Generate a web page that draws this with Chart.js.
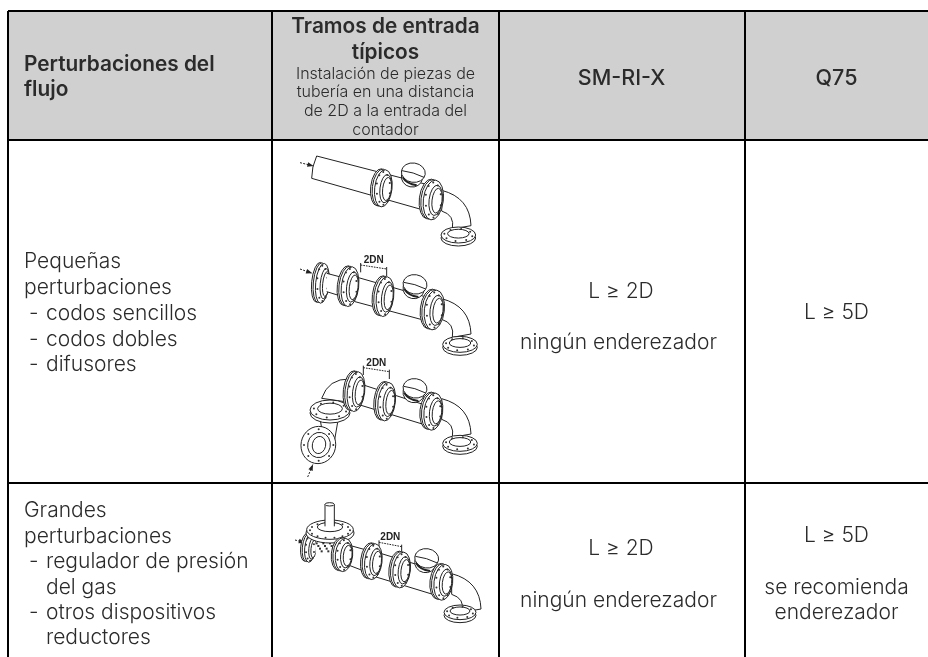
<!DOCTYPE html>
<html>
<head>
<meta charset="utf-8">
<style>
  html, body { margin: 0; padding: 0; background: #fff; }
  canvas { display: block; }
</style>
<script src="https://cdn.jsdelivr.net/npm/chart.js@4/dist/chart.umd.min.js"></script>
</head>
<body>
<canvas id="flowTable" width="928" height="657"></canvas>
<script>
// table contents
const HEAD_FLOW = ['Perturbaciones del', 'flujo'];
const HEAD_RUN = ['Tramos de entrada', 'típicos'];
const HEAD_RUN_NOTE = ['Instalación de piezas de', 'tubería en una distancia', 'de 2D a la entrada del', 'contador'];
const HEAD_SM = 'SM-RI-X';
const HEAD_Q = 'Q75';
const SMALL_TITLE = ['Pequeñas', 'perturbaciones'];
const SMALL_ITEMS = ['codos sencillos', 'codos dobles', 'difusores'];
const BIG_TITLE = ['Grandes', 'perturbaciones'];
const BIG_ITEMS = ['regulador de presión', 'del gas', 'otros dispositivos', 'reductores'];
const SMALL_SM = ['L ≥ 2D', 'ningún enderezador'];
const SMALL_Q = ['L ≥ 5D'];
const BIG_SM = ['L ≥ 2D', 'ningún enderezador'];
const BIG_Q = ['L ≥ 5D', 'se recomienda', 'enderezador'];

// table rules, in axis units
const COL_RULES = [8, 272, 499, 745];
const ROW_RULES = [11, 140, 483];
const HEADER_BAND = [{ x: 8, y: 140 }, { x: 928, y: 140 }];

const INK = '#2b2b2b';
const BODY_FONT = '300 21px Inter, sans-serif';
const HEAD_FONT = '600 20.8px Inter, sans-serif';
const CODE_FONT = '500 21.5px Inter, sans-serif';
const NOTE_FONT = '300 16px Inter, sans-serif';

function put(ctx, x, y, text, font, align) {
  ctx.font = font;
  ctx.textAlign = align || 'left';
  ctx.textBaseline = 'alphabetic';
  ctx.fillStyle = INK;
  ctx.fillText(text, x, y + 1);
}

const tableText = {
  id: 'tableText',
  afterDraw(chart) {
    const ctx = chart.ctx;
    ctx.save();
    put(ctx, 24, 70, HEAD_FLOW[0], HEAD_FONT);
    put(ctx, 24, 95, HEAD_FLOW[1], HEAD_FONT);
    put(ctx, 385.5, 32, HEAD_RUN[0], HEAD_FONT, 'center');
    put(ctx, 385.5, 58, HEAD_RUN[1], HEAD_FONT, 'center');
    [78, 96, 115, 134].forEach((y, i) => put(ctx, 385.5, y, HEAD_RUN_NOTE[i], NOTE_FONT, 'center'));
    put(ctx, 621.5, 84, HEAD_SM, CODE_FONT, 'center');
    put(ctx, 836.5, 84, HEAD_Q, CODE_FONT, 'center');

    put(ctx, 24, 267, SMALL_TITLE[0], BODY_FONT);
    put(ctx, 24, 293, SMALL_TITLE[1], BODY_FONT);
    [319, 345, 370].forEach((y, i) => {
      put(ctx, 29, y, '-', BODY_FONT);
      put(ctx, 46, y, SMALL_ITEMS[i], BODY_FONT);
    });
    put(ctx, 24, 516, BIG_TITLE[0], BODY_FONT);
    put(ctx, 24, 542, BIG_TITLE[1], BODY_FONT);
    put(ctx, 29, 567, '-', BODY_FONT);
    put(ctx, 46, 567, BIG_ITEMS[0], BODY_FONT);
    put(ctx, 46, 593, BIG_ITEMS[1], BODY_FONT);
    put(ctx, 29, 618, '-', BODY_FONT);
    put(ctx, 46, 618, BIG_ITEMS[2], BODY_FONT);
    put(ctx, 46, 643, BIG_ITEMS[3], BODY_FONT);

    put(ctx, 621, 297, SMALL_SM[0], BODY_FONT, 'center');
    put(ctx, 618.5, 348, SMALL_SM[1], BODY_FONT, 'center');
    put(ctx, 836.5, 318, SMALL_Q[0], BODY_FONT, 'center');
    put(ctx, 621, 554, BIG_SM[0], BODY_FONT, 'center');
    put(ctx, 618.5, 606, BIG_SM[1], BODY_FONT, 'center');
    put(ctx, 836.5, 541, BIG_Q[0], BODY_FONT, 'center');
    put(ctx, 836.5, 593, BIG_Q[1], BODY_FONT, 'center');
    put(ctx, 836.5, 618, BIG_Q[2], BODY_FONT, 'center');
    ctx.restore();
  }
};

// --- pipe sketches, coordinates are 3x zoomed crop units ---
function ell(ctx, cx, cy, rx, ry, rot) {
  ctx.beginPath();
  ctx.ellipse(cx, cy, rx, ry, rot, 0, Math.PI * 2);
  ctx.fill();
  ctx.stroke();
}

function flange(ctx, cx, cy, rx, ry, rot) {
  ctx.fillStyle = '#fff';
  ell(ctx, cx - 12, cy - 3, rx, ry, rot);
  ell(ctx, cx - 7, cy - 2, rx, ry, rot);
  ell(ctx, cx, cy, rx, ry, rot);
  ell(ctx, cx + 7, cy + 1, rx * 0.66, ry * 0.76, rot);
  ell(ctx, cx + 11, cy + 2, rx * 0.5, ry * 0.62, rot);
  ctx.fillStyle = '#333';
  for (let a = 0; a < 10; a++) {
    const t = a * Math.PI / 5 + 0.3;
    ctx.beginPath();
    ctx.arc(cx + Math.cos(t) * rx * 0.78, cy + Math.sin(t) * ry * 0.88, 3, 0, Math.PI * 2);
    ctx.fill();
  }
}

function baseFlange(ctx, cx, cy, rx, ry) {
  ctx.fillStyle = '#fff';
  ell(ctx, cx, cy + 9, rx, ry, 0);
  ell(ctx, cx, cy, rx, ry, 0);
  ell(ctx, cx, cy - 4, rx * 0.62, ry * 0.55, 0);
  ctx.fillStyle = '#333';
  for (let a = 0; a < 8; a++) {
    const t = a * Math.PI / 4 + 0.2;
    ctx.beginPath();
    ctx.arc(cx + Math.cos(t) * rx * 0.82, cy + Math.sin(t) * ry * 0.76, 3, 0, Math.PI * 2);
    ctx.fill();
  }
}

function tube(ctx, x1, y1, x2, y2, x3, y3, x4, y4) {
  ctx.fillStyle = '#fff';
  ctx.beginPath();
  ctx.moveTo(x1, y1);
  ctx.lineTo(x2, y2);
  ctx.lineTo(x4, y4);
  ctx.lineTo(x3, y3);
  ctx.closePath();
  ctx.fill();
  ctx.beginPath();
  ctx.moveTo(x1, y1);
  ctx.lineTo(x2, y2);
  ctx.moveTo(x3, y3);
  ctx.lineTo(x4, y4);
  ctx.stroke();
}

function meter(ctx, cx, cy) {
  ctx.fillStyle = '#fff';
  ctx.beginPath();
  ctx.ellipse(cx - 4, cy + 13, 32, 30, 0.2, 0, Math.PI * 2);
  ctx.fill();
  ctx.stroke();
  ell(ctx, cx, cy, 36, 29, 0.15);
  ctx.beginPath();
  ctx.moveTo(cx - 34, cy - 6);
  ctx.quadraticCurveTo(cx, cy - 2, cx + 32, cy + 14);
  ctx.stroke();
  ctx.lineWidth = 6;
  ctx.beginPath();
  ctx.moveTo(cx - 32, cy + 14);
  ctx.quadraticCurveTo(cx - 20, cy + 34, cx + 10, cy + 38);
  ctx.stroke();
  ctx.lineWidth = 3;
}

function elbow(ctx, x, y) {
  // runs from a flange face at (x, y) down to a base flange
  ctx.fillStyle = '#fff';
  ctx.beginPath();
  ctx.moveTo(x, y - 34);
  ctx.quadraticCurveTo(x + 85, y - 12, x + 88, y + 72);
  ctx.lineTo(x + 32, y + 82);
  ctx.quadraticCurveTo(x + 40, y + 40, x, y + 28);
  ctx.closePath();
  ctx.fill();
  ctx.stroke();
}

function arrow(ctx, x1, y1, x2, y2) {
  ctx.setLineDash([6, 4]);
  ctx.beginPath();
  ctx.moveTo(x1, y1);
  ctx.lineTo(x2, y2);
  ctx.stroke();
  ctx.setLineDash([]);
  const a = Math.atan2(y2 - y1, x2 - x1);
  ctx.fillStyle = '#222';
  ctx.beginPath();
  ctx.moveTo(x2, y2);
  ctx.lineTo(x2 - 20 * Math.cos(a - 0.35), y2 - 20 * Math.sin(a - 0.35));
  ctx.lineTo(x2 - 20 * Math.cos(a + 0.35), y2 - 20 * Math.sin(a + 0.35));
  ctx.closePath();
  ctx.fill();
}

function dimension(ctx, x1, y1, x2, y2) {
  ctx.setLineDash([5, 3]);
  ctx.beginPath();
  ctx.moveTo(x1, y1);
  ctx.lineTo(x2, y2);
  ctx.stroke();
  ctx.setLineDash([]);
  ctx.beginPath();
  ctx.moveTo(x1, y1 - 6);
  ctx.lineTo(x1, y1 + 22);
  ctx.moveTo(x2, y2 - 6);
  ctx.lineTo(x2, y2 + 22);
  ctx.stroke();
  ctx.fillStyle = '#222';
  ctx.font = 'bold 30px "Liberation Sans Narrow", "Liberation Sans", sans-serif';
  ctx.textAlign = 'center';
  ctx.fillText('2DN', (x1 + x2) / 2, Math.min(y1, y2) - 6);
}

function sketchOne(ctx) {
  arrow(ctx, 15, 38, 56, 48);
  tube(ctx, 65, 18, 390, 102, 50, 85, 385, 180);
  ctx.beginPath();
  ctx.moveTo(65, 18);
  ctx.quadraticCurveTo(50, 50, 50, 85);
  ctx.stroke();
  elbow(ctx, 440, 155);
  baseFlange(ctx, 490, 255, 52, 24);
  flange(ctx, 265, 115, 26, 56, 0.12);
  meter(ctx, 355, 68);
  flange(ctx, 415, 150, 30, 60, 0.12);
}

function sketchTwo(ctx) {
  arrow(ctx, 15, 42, 52, 55);
  dimension(ctx, 197, 30, 275, 42);
  flange(ctx, 82, 85, 20, 60, 0.1);
  tube(ctx, 95, 55, 160, 72, 95, 110, 160, 130);
  tube(ctx, 180, 65, 390, 125, 180, 140, 385, 195);
  flange(ctx, 165, 95, 26, 60, 0.12);
  elbow(ctx, 440, 165);
  baseFlange(ctx, 495, 268, 52, 24);
  flange(ctx, 270, 125, 26, 60, 0.12);
  meter(ctx, 360, 88);
  flange(ctx, 418, 165, 30, 60, 0.12);
}

function sketchThree(ctx) {
  dimension(ctx, 205, 38, 283, 50);
  // left elbow and round inlet flange
  ctx.fillStyle = '#fff';
  ctx.beginPath();
  ctx.moveTo(165, 72);
  ctx.quadraticCurveTo(100, 70, 80, 130);
  ctx.lineTo(150, 140);
  ctx.quadraticCurveTo(150, 130, 175, 125);
  ctx.closePath();
  ctx.fill();
  ctx.stroke();
  tube(ctx, 75, 190, 80, 220, 130, 190, 118, 260);
  ell(ctx, 70, 270, 52, 56, 0.2);
  ell(ctx, 72, 270, 34, 38, 0.2);
  ell(ctx, 72, 270, 20, 26, 0.2);
  ctx.fillStyle = '#333';
  for (let a = 0; a < 8; a++) {
    const t = a * Math.PI / 4;
    ctx.beginPath();
    ctx.arc(71 + Math.cos(t) * 44, 270 + Math.sin(t) * 47, 3, 0, Math.PI * 2);
    ctx.fill();
  }
  baseFlange(ctx, 105, 165, 60, 30);
  tube(ctx, 190, 85, 390, 150, 195, 150, 385, 208);
  flange(ctx, 183, 110, 26, 60, 0.12);
  elbow(ctx, 440, 165);
  baseFlange(ctx, 495, 265, 52, 24);
  flange(ctx, 275, 140, 26, 58, 0.12);
  meter(ctx, 360, 100);
  flange(ctx, 415, 170, 28, 56, 0.12);
  arrow(ctx, 38, 366, 54, 328);
}

function sketchFour(ctx) {
  arrow(ctx, 0, 135, 30, 143);
  dimension(ctx, 252, 142, 320, 155);
  tube(ctx, 160, 150, 225, 168, 160, 210, 225, 235);
  flange(ctx, 45, 160, 16, 42, 0.1);
  // regulator body with its dark valve parts
  ctx.fillStyle = '#fff';
  ctx.beginPath();
  ctx.rect(62, 130, 76, 55);
  ctx.fill();
  ctx.fillStyle = '#333';
  for (let i = 0; i < 16; i++) {
    ctx.fillRect(62 + i * 5, 142 + (i % 4) * 8, 6, 6);
  }
  ctx.fillStyle = '#fff';
  ell(ctx, 105, 114, 72, 30, 0);
  ell(ctx, 105, 104, 70, 29, 0);
  ell(ctx, 105, 96, 38, 14, 0);
  ctx.fillStyle = '#333';
  for (let a = 0; a < 14; a++) {
    const t = a * Math.PI / 7;
    ctx.beginPath();
    ctx.arc(105 + Math.cos(t) * 60, 106 + Math.sin(t) * 23, 3, 0, Math.PI * 2);
    ctx.fill();
  }
  tube(ctx, 90, 28, 90, 94, 118, 28, 118, 94);
  ctx.fillStyle = '#fff';
  ell(ctx, 104, 28, 14, 5, 0);
  flange(ctx, 147, 180, 26, 50, 0.1);
  tube(ctx, 240, 170, 420, 225, 240, 245, 420, 300);
  flange(ctx, 235, 200, 26, 54, 0.12);
  elbow(ctx, 470, 270);
  baseFlange(ctx, 495, 352, 48, 22);
  flange(ctx, 320, 225, 26, 54, 0.12);
  meter(ctx, 395, 190);
  flange(ctx, 445, 262, 28, 54, 0.12);
}

const SKETCHES = [
  [295, 150, sketchOne],
  [295, 255, sketchTwo],
  [295, 355, sketchThree],
  [295, 495, sketchFour]
];

const pipeSketches = {
  id: 'pipeSketches',
  afterDraw(chart) {
    const ctx = chart.ctx;
    SKETCHES.forEach(([ox, oy, draw]) => {
      ctx.save();
      ctx.translate(ox, oy);
      ctx.scale(1 / 3, 1 / 3);
      ctx.filter = 'blur(0.4px)';
      ctx.strokeStyle = '#222';
      ctx.lineWidth = 3;
      draw(ctx);
      ctx.restore();
    });
  }
};

const edgeTicks = (edges) => (scale) => {
  scale.ticks = edges.map((value) => ({ value }));
};

const hiddenTicks = { display: false };
const ruleGrid = { color: '#000', lineWidth: 2, drawTicks: false, z: 1 };

new Chart(document.getElementById('flowTable').getContext('2d'), {
  type: 'line',
  data: {
    datasets: [
      {
        data: HEADER_BAND,
        fill: 'end',
        backgroundColor: '#d0d0d0',
        borderWidth: 0,
        pointRadius: 0
      }
    ]
  },
  options: {
    responsive: false,
    animation: false,
    layout: { padding: { left: 8, top: 11, right: 0, bottom: 0 } },
    plugins: {
      legend: { display: false },
      tooltip: { enabled: false }
    },
    scales: {
      x: {
        type: 'linear',
        min: 8,
        max: 928,
        afterBuildTicks: edgeTicks(COL_RULES),
        ticks: hiddenTicks,
        grid: ruleGrid,
        border: { display: false }
      },
      y: {
        type: 'linear',
        reverse: true,
        min: 11,
        max: 657,
        afterBuildTicks: edgeTicks(ROW_RULES),
        ticks: hiddenTicks,
        grid: ruleGrid,
        border: { display: false }
      }
    }
  },
  plugins: [pipeSketches, tableText]
});
</script>
</body>
</html>
